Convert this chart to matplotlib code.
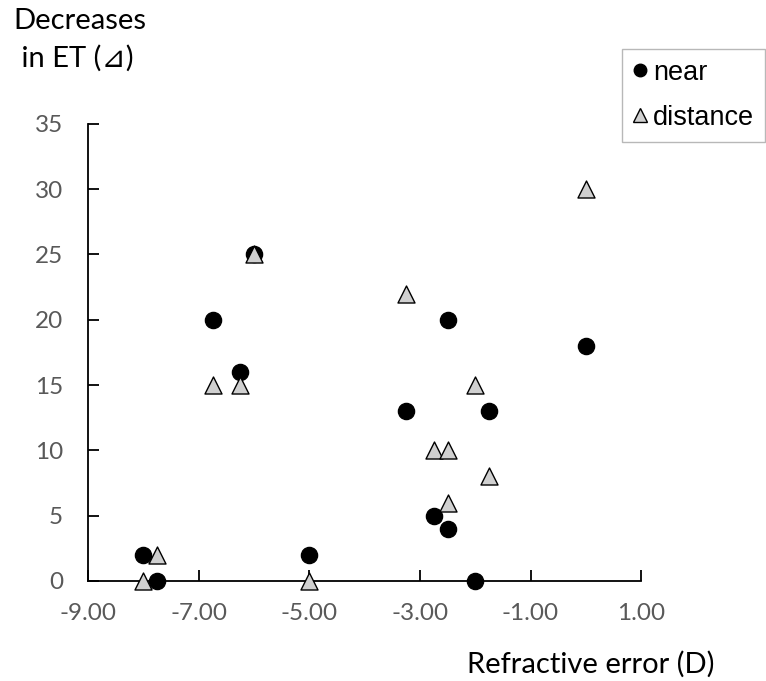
import matplotlib
matplotlib.use("Agg")
import matplotlib.pyplot as plt
from matplotlib.lines import Line2D

# refractive error (D) vs decrease in ET (prism dioptres)
near_x = [-8.0, -7.75, -6.0, -6.75, -6.25, -5.0, -3.25, -2.5, -2.75, -2.5, -2.0, -1.75, 0.0]
near_y = [2, 0, 25, 20, 16, 2, 13, 20, 5, 4, 0, 13, 18]

dist_x = [-8.0, -7.75, -6.0, -6.75, -6.25, -5.0, -3.25, -2.75, -2.5, -2.5, -2.0, -1.75, 0.0]
dist_y = [0, 2, 25, 15, 15, 0, 22, 10, 10, 6, 15, 8, 30]

x_ticks = [-9, -7, -5, -3, -1, 1]
y_ticks = [0, 5, 10, 15, 20, 25, 30, 35]

FONT = ["Lato", "DejaVu Sans"]
GRAY = "#595959"

fig = plt.figure(figsize=(7.66, 6.81), dpi=100)
ax = fig.add_axes([0.115, 0.147, 0.722, 0.671])

ax.scatter(near_x, near_y, s=135, marker="o", color="black", zorder=3, clip_on=False)
ax.scatter(dist_x, dist_y, s=150, marker="^", facecolor="#d0d0d0",
           edgecolor="black", linewidth=1.0, zorder=4, clip_on=False)

ax.set_xlim(-9, 1)
ax.set_ylim(0, 35)
ax.set_xticks(x_ticks)
ax.set_xticklabels([f"{v:.2f}" for v in x_ticks])
ax.set_yticks(y_ticks)

for s in ["top", "right"]:
    ax.spines[s].set_visible(False)
for s in ["left", "bottom"]:
    ax.spines[s].set_linewidth(1.3)
ax.tick_params(direction="in", length=8, width=1.3, colors="black",
               labelcolor=GRAY, labelsize=17.5)
ax.tick_params(axis="y", pad=18)
ax.tick_params(axis="x", pad=16)
for lab in ax.get_xticklabels() + ax.get_yticklabels():
    lab.set_family(FONT)

fig.text(0.018, 0.988, "Decreases\n in ET (\u22bf)", ha="left", va="top",
         fontsize=21, family=FONT, linespacing=1.5)
fig.text(0.933, 0.012, "Refractive error (D)", ha="right", va="baseline",
         fontsize=21, family=FONT)

handles = [
    Line2D([], [], ls="none", marker="o", color="black", markersize=9),
    Line2D([], [], ls="none", marker="^", markerfacecolor="#d0d0d0",
           markeredgecolor="black", markersize=10),
]
leg = fig.legend(handles, ["near", "distance"], loc="upper right",
                 bbox_to_anchor=(0.999, 0.928), borderaxespad=0, frameon=True,
                 fancybox=False, handlelength=0.5, handletextpad=0.25,
                 borderpad=0.4, labelspacing=0.7,
                 prop={"family": "Liberation Sans", "size": 19.5})
leg.get_frame().set_edgecolor("#a6a6a6")
leg.get_frame().set_linewidth(1.0)

fig.savefig("out.png", dpi=100)
